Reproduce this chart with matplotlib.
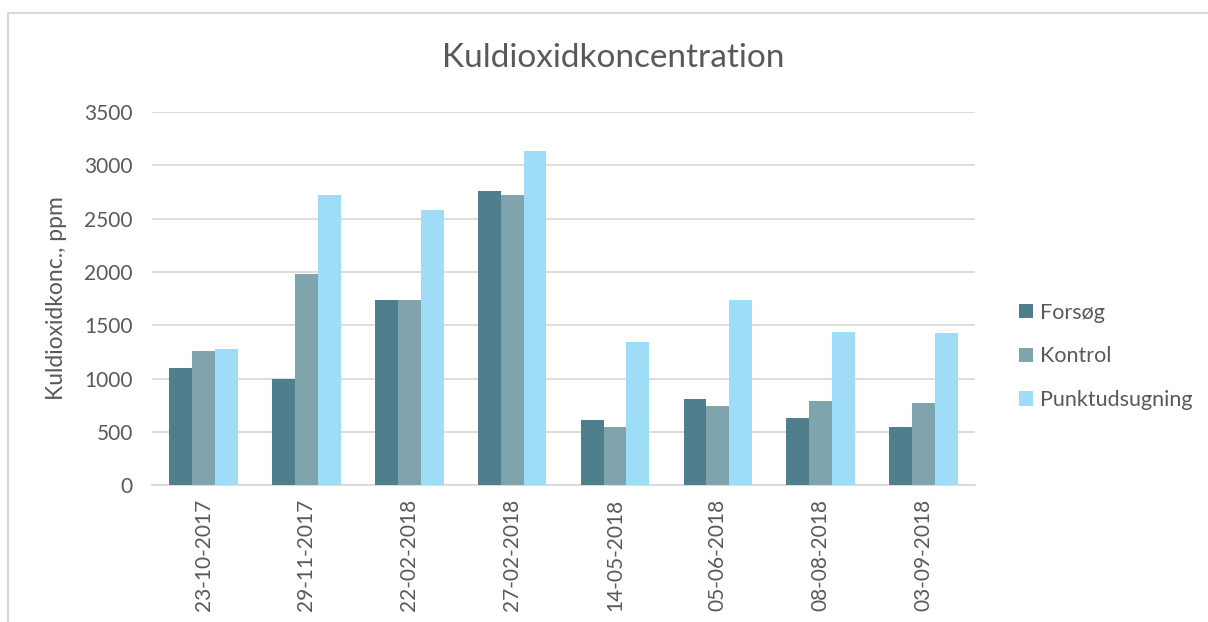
import matplotlib.pyplot as plt
import numpy as np
from matplotlib.patches import Rectangle

dates = ["23-10-2017", "29-11-2017", "22-02-2018", "27-02-2018",
         "14-05-2018", "05-06-2018", "08-08-2018", "03-09-2018"]
forsog = [1100, 1000, 1740, 2760, 610, 810, 630, 550]
kontrol = [1260, 1980, 1740, 2725, 550, 740, 790, 775]
punkt = [1280, 2725, 2585, 3135, 1345, 1740, 1440, 1425]

series = ["Forsøg", "Kontrol", "Punktudsugning"]
colors = ["#4f7e8c", "#7fa4ad", "#9fdcf7"]
txt = "#595959"

plt.rcParams['font.family'] = ['Lato', 'DejaVu Sans']

fig = plt.figure(figsize=(12.08, 6.22), dpi=100)
ax = fig.add_axes([0.126, 0.22, 0.681, 0.60])

# grey frame round the chart (right and bottom edges fall outside the picture)
fig.patches.append(Rectangle((0.007, -0.05), 1.05, 1.029, transform=fig.transFigure,
                             fill=False, edgecolor="#d9d9d9", linewidth=1.5))

x = np.arange(len(dates))
w = 0.222
for i, (vals, name) in enumerate(zip([forsog, kontrol, punkt], series)):
    ax.bar(x + (i - 1) * w, vals, w, color=colors[i], label=name, zorder=3)

ax.set_xlim(-0.5, len(dates) - 0.5)
ax.set_ylim(0, 3500)
ax.set_yticks(range(0, 3501, 500))
ax.yaxis.grid(True, color="#d9d9d9", linewidth=1.3, zorder=0)
ax.set_xticks(x)
ax.set_xticklabels(dates, rotation=90)
ax.tick_params(axis="both", length=0, labelsize=15, colors=txt)
ax.tick_params(axis="y", pad=14)
ax.tick_params(axis="x", pad=10)
for s in ["top", "right", "left"]:
    ax.spines[s].set_visible(False)
ax.spines["bottom"].set_color("#d9d9d9")
ax.spines["bottom"].set_linewidth(1.3)

ax.set_ylabel("Kuldioxidkonc., ppm", fontsize=16.5, color=txt)
ax.yaxis.set_label_coords(-0.104, 0.5)
fig.text(0.508, 0.907, "Kuldioxidkoncentration", fontsize=24, color=txt,
         ha="center", va="center")

leg = ax.legend(loc="center left", bbox_to_anchor=(1.03, 0.345), frameon=False,
                fontsize=15.5, labelspacing=1.1, handlelength=0.65, handleheight=0.65,
                handletextpad=0.35)
for t in leg.get_texts():
    t.set_color(txt)

fig.savefig("out.png", dpi=100)
